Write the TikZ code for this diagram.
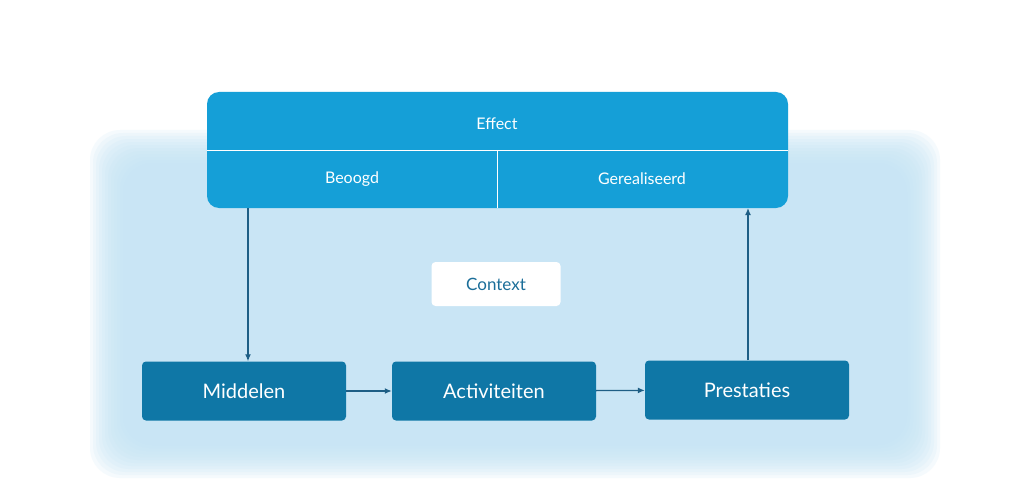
\documentclass[tikz,border=0pt]{standalone}
\usepackage{fontspec}
\setmainfont{Lato}
\definecolor{glow}{HTML}{C4E4F5}
\definecolor{eff}{HTML}{159FD7}
\definecolor{dark}{HTML}{0F77A6}
\definecolor{arr}{HTML}{1E5E85}
\definecolor{ctx}{HTML}{1B6E99}
\begin{document}
\begin{tikzpicture}[x=1pt,y=-1pt,
  top/.style={fill=eff,rounded corners=12pt},
  bot/.style={fill=dark,rounded corners=4pt,text=white,font=\fontsize{20}{24}\selectfont,minimum width=204pt,minimum height=59pt,inner sep=0pt},
  lab/.style={text=white,font=\fontsize{16}{19}\selectfont},
  con/.style={draw=arr,line width=1.3pt,-{Latex[length=7pt,width=6pt]}}]
\usetikzlibrary{arrows.meta}
\useasboundingbox (0,0) rectangle (1030,500);
\fill[white] (0,0) rectangle (1030,500);
\foreach \i in {0,...,11}{
  \fill[glow,opacity=0.16,rounded corners=30pt] (90+\i*3,130+\i*3) rectangle (940-\i*3,478-\i*3);
}
\fill[top] (207,92) rectangle (788,208);
\draw[white,line width=1pt] (207,150) -- (788,150);
\draw[white,line width=1pt] (497,150) -- (497,208);
\node[lab] (eff) at (497,124) {Effect};
\node[lab] (beo) at (352,179) {Beoogd};
\node[lab] (ger) at (642,179) {Gerealiseerd};
\coordinate (tl) at (248,208);
\coordinate (tr) at (748,208);
\node[fill=white,rounded corners=4pt,text=ctx,font=\fontsize{17}{20}\selectfont,minimum width=129pt,minimum height=44pt] (ctxn) at (496,284) {Context};
\node[bot] (mid) at (244,391) {Middelen};
\node[bot] (act) at (494,391) {Activiteiten};
\node[bot] (pre) at (747,390) {Prestaties};
\draw[con] (tl) -- (mid.north -| tl);
\draw[con] (pre.north -| tr) -- (tr);
\draw[con] (mid) -- (act);
\draw[con] (act) -- (pre);
\end{tikzpicture}
\end{document}
